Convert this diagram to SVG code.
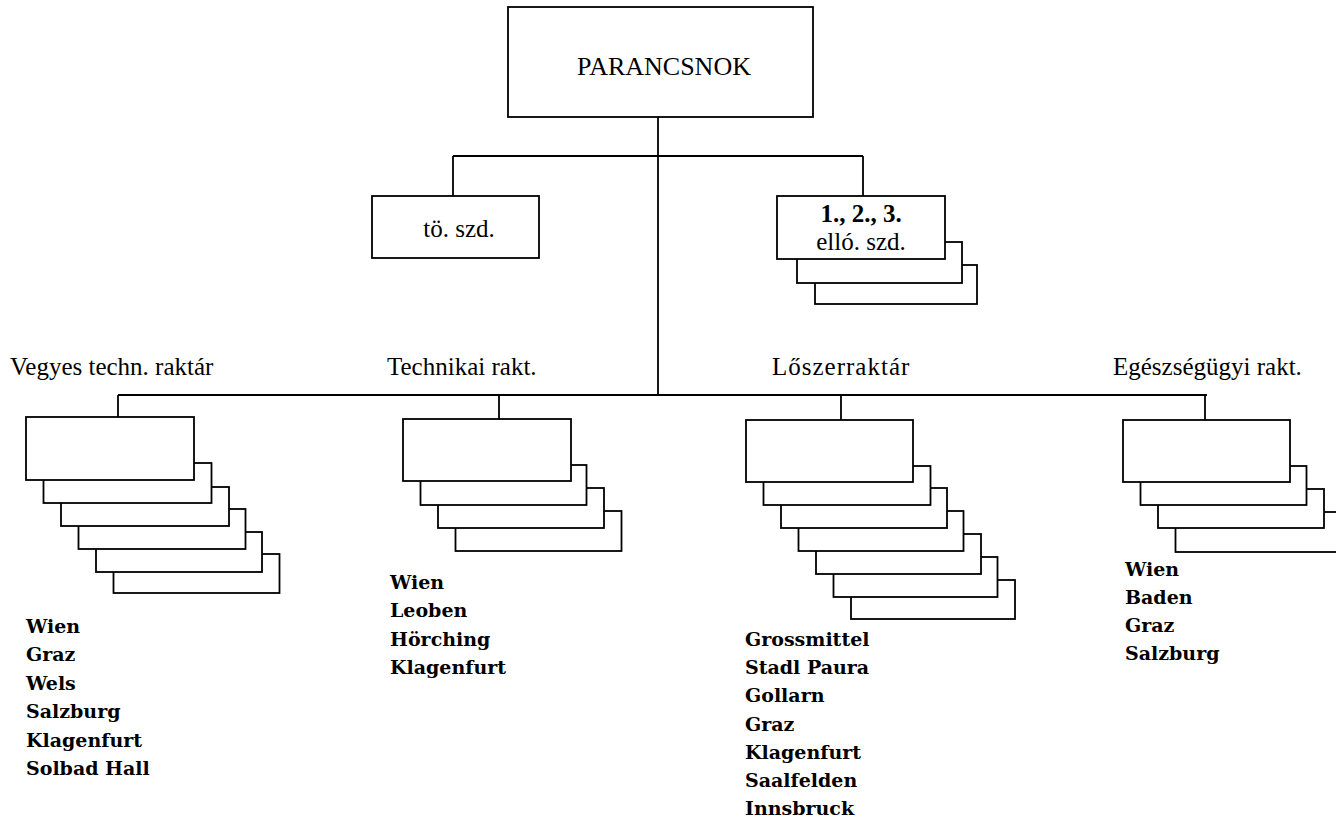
<svg xmlns="http://www.w3.org/2000/svg" width="1336" height="819" viewBox="0 0 1336 819">
<style>
.b{fill:#fff;stroke:#000;stroke-width:1.8}
.c{fill:none;stroke:#000;stroke-width:1.8}
.t{font-family:"Liberation Serif","Times New Roman",serif;fill:#000}
.h{font-size:25px}
.l{font-family:"DejaVu Serif","Liberation Serif",serif;font-weight:bold;font-size:19px;fill:#000}
</style>
<rect width="1336" height="819" fill="#fff"/>
<g id="connectors">
<path class="c" d="M658 117V395M453 156H863M453 156V196M863 156V196M118 395H1207M118 395V417M499 395V419M841 395V420M1205 395V420"/>
</g>
<g id="parancsnok">
<rect class="b" x="508" y="7" width="305" height="110"/>
<text class="t" x="664" y="75" font-size="26" text-anchor="middle">PARANCSNOK</text>
</g>
<g id="to-szd">
<rect class="b" x="372" y="196" width="167" height="62"/>
<text class="t h" x="459" y="237" text-anchor="middle">tö. szd.</text>
</g>
<g id="ello-szd">
<rect class="b" x="815" y="265" width="162" height="39"/>
<rect class="b" x="797" y="242" width="165" height="41"/>
<rect class="b" x="777" y="196" width="168" height="63"/>
<text class="t h" x="861" y="222" text-anchor="middle" font-weight="bold">1., 2., 3.</text>
<text class="t h" x="861" y="250" text-anchor="middle">elló. szd.</text>
</g>
<g id="vegyes">
<text class="t h" x="10" y="375">Vegyes techn. raktár</text>
<rect class="b" x="113.5" y="554" width="166" height="39"/>
<rect class="b" x="96" y="532" width="166" height="40"/>
<rect class="b" x="78.5" y="509" width="167" height="40"/>
<rect class="b" x="61" y="487" width="168" height="39"/>
<rect class="b" x="43.5" y="463" width="168" height="40"/>
<rect class="b" x="26" y="417" width="168" height="63"/>
<text class="l" x="26" y="633">Wien</text>
<text class="l" x="26" y="661.4">Graz</text>
<text class="l" x="26" y="689.8">Wels</text>
<text class="l" x="26" y="718.2">Salzburg</text>
<text class="l" x="26" y="746.6">Klagenfurt</text>
<text class="l" x="26" y="775">Solbad Hall</text>
</g>
<g id="technikai">
<text class="t h" x="387" y="375">Technikai rakt.</text>
<rect class="b" x="455.5" y="511" width="166" height="40"/>
<rect class="b" x="438" y="488" width="166" height="40"/>
<rect class="b" x="420.5" y="465" width="166" height="40"/>
<rect class="b" x="403" y="419" width="168" height="62"/>
<text class="l" x="390" y="589">Wien</text>
<text class="l" x="390" y="617.3">Leoben</text>
<text class="l" x="390" y="645.6">Hörching</text>
<text class="l" x="390" y="673.9">Klagenfurt</text>
</g>
<g id="loszer">
<text class="t h" x="772" y="375" letter-spacing="1">Lőszerraktár</text>
<rect class="b" x="851" y="580" width="164" height="39"/>
<rect class="b" x="833.5" y="557" width="164" height="40"/>
<rect class="b" x="816" y="534" width="165" height="40"/>
<rect class="b" x="798.5" y="511" width="165" height="40"/>
<rect class="b" x="781" y="488" width="166" height="40"/>
<rect class="b" x="763.5" y="466" width="167" height="39"/>
<rect class="b" x="746" y="420" width="167" height="62"/>
<text class="l" x="745" y="646">Grossmittel</text>
<text class="l" x="745" y="674.2">Stadl Paura</text>
<text class="l" x="745" y="702.4">Gollarn</text>
<text class="l" x="745" y="730.6">Graz</text>
<text class="l" x="745" y="758.8">Klagenfurt</text>
<text class="l" x="745" y="787">Saalfelden</text>
<text class="l" x="745" y="815.2">Innsbruck</text>
</g>
<g id="egeszsegugyi">
<text class="t h" x="1113" y="375">Egészségügyi rakt.</text>
<rect class="b" x="1175.5" y="512" width="170" height="40"/>
<rect class="b" x="1158" y="489" width="166" height="39"/>
<rect class="b" x="1140.5" y="466" width="166" height="39"/>
<rect class="b" x="1123" y="420" width="167" height="62"/>
<text class="l" x="1125" y="576">Wien</text>
<text class="l" x="1125" y="604">Baden</text>
<text class="l" x="1125" y="632">Graz</text>
<text class="l" x="1125" y="660">Salzburg</text>
</g>
</svg>
